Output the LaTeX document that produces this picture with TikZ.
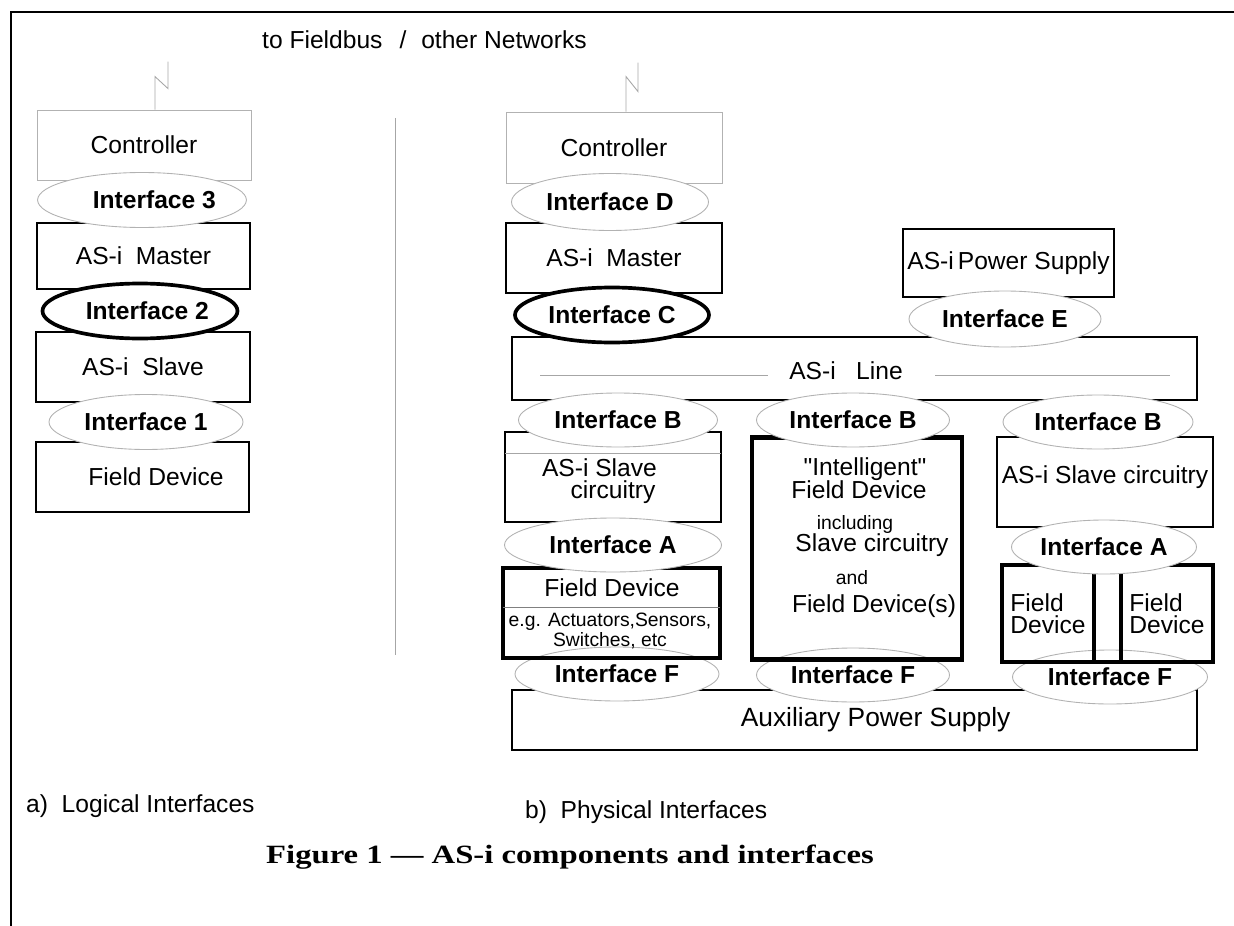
\documentclass[tikz,border=0pt]{standalone}
\usepackage{fontspec}
\setmainfont{Liberation Sans}[Ligatures=TeXOff]
\newfontfamily\capfont{Liberation Serif}[FakeStretch=1.24]
\usepackage{tikz}
\usetikzlibrary{calc}
\usetikzlibrary{shapes.geometric}

\tikzset{
	wh/.style 2 args={minimum width=#1*0.02cm, minimum height=#2*0.02cm},
	thinbox/.style={draw=gray!60, line width=0.5pt, inner sep=0pt},
	blkbox/.style={draw, line width=1.1pt, inner sep=0pt},
	heavybox/.style={draw, line width=2.7pt, inner sep=0pt},
	iface/.style={ellipse, draw=gray!60, line width=0.5pt, fill=white, inner sep=0pt, font=\fontsize{14}{16}\selectfont\bfseries},
	ifacethick/.style={iface, draw=black, line width=2.1pt},
	wire/.style={draw=gray!70, line width=0.5pt},
	smalltxt/.style={font=\fontsize{11}{11.5}\selectfont}
}

\begin{document}
\begin{tikzpicture}[x=0.02cm, y=-0.02cm, font=\fontsize{14}{16}\selectfont]
	\useasboundingbox (0,0) rectangle (1234,926);
	\draw[line width=1.3pt] (1234,12) -- (11,12) -- (11,926);
	
	\node[anchor=west] (netText) at (256,40) {to Fieldbus\hspace{0.7em}/\hspace{0.6em}other Networks};
	
	% a) logical
	\node[thinbox, wh={214}{70}] (ctrlL) at (144,145) {Controller};
	\node[blkbox, wh={213}{66}] (mastL) at (143.5,256) {AS-i\ \ Master};
	\node[blkbox, wh={214}{70}] (slaveL) at (143,367) {AS-i\ \ Slave\hspace{1em}};
	\node[blkbox, wh={213}{70}] (fieldL) at (142.5,477) {\hspace{1.1em}Field Device};
	\node[iface, wh={192}{55}] (ifThree) at (142,200) {\hspace{1em}Interface 3};
	\node[ifacethick, wh={195}{55}] (ifTwo) at (140,311) {\hspace{0.6em}Interface 2};
	\node[iface, wh={194}{55}] (ifOne) at (146,422) {Interface 1};
	\draw[wire] ([xshift=0.22cm]ctrlL.north) -- ++(0,-33) -- ++(13,12) -- ++(0,-27);
	
	\draw[wire] (395,118) -- (395,655);
	
	% b) physical
	\node[thinbox, wh={216}{71}] (ctrlR) at (614,147.5) {Controller};
	\node[blkbox, wh={216}{70}] (mastR) at (614,258) {AS-i\ \ Master};
	\node[blkbox, wh={211}{68}] (asiPsu) at (1008.5,263) {AS-i\,Power Supply};
	\node[blkbox, wh={685}{63}] (asiLine) at (854.5,368.5) {};
	\node (lineText) at (846,371) {AS-i\ \ \ Line};
	\draw[wire] (540,375) -- (768,375);
	\draw[wire] (935,375) -- (1170,375);
	\draw[wire] ([xshift=0.24cm]ctrlR.north) -- ++(0,-35) -- ++(12,15) -- ++(0,-29);
	
	\node[blkbox, wh={216}{90}] (slaveA) at (613,477) {};
	\node[align=center, font=\fontsize{14}{12.5}\selectfont] (slaveAText) at (613,481) {AS-i Slave\hspace*{1.1em}\\circuitry};
	\draw[wire] (505,453) -- (721,453);
	\node[blkbox, line width=0.9pt, wh={216}{90}] (slaveC) at (1105,482) {};
	\node (slaveCText) at (1105,477) {AS-i Slave circuitry};
	
	\node[blkbox, wh={685}{60}, font=\fontsize{15}{18}\selectfont] (auxPsu) at (854.5,720) {\hspace{1.6em}Auxiliary Power Supply};
	\node[iface, wh={204}{54}] (ifFa) at (617,674) {Interface F};
	\node[iface, wh={193}{54}] (ifFb) at (853,675) {Interface F};
	\node[iface, wh={195}{54}] (ifFc) at (1110,677) {Interface F};
	
	\node[heavybox, wh={217}{90}] (fieldA) at (611.5,613) {};
	\draw[wire, draw=gray] (503,607) -- (720,607);
	\node (fdName) at (612,588) {Field Device};
	\node[smalltxt, align=center] (fdEx) at (610,631) {e.g. Actuators,Sensors,\\Switches, etc};
	
	\node[heavybox, wh={210}{222}] (intel) at (857,548.5) {};
	\node (intA) at (865,469) {"Intelligent"};
	\node (intB) at (859,490) {Field Device};
	\node[smalltxt] (intC) at (855,524) {including};
	\node (intD) at (872,545) {Slave circuitry};
	\node[smalltxt] (intE) at (852,578) {and};
	\node (intF) at (874,606) {Field Device(s)};
	
	\node[heavybox, wh={92}{97}, align=left, font=\fontsize{14}{12.5}\selectfont] (fdevA) at (1048,613.5) {Field\\Device};
	\node[heavybox, wh={27}{97}] (fdevGap) at (1107.5,613.5) {};
	\node[heavybox, wh={92}{97}, align=left, font=\fontsize{14}{12.5}\selectfont] (fdevB) at (1167,613.5) {Field\\Device};
	
	\node[iface, wh={197}{57}] (ifD) at (610,202) {Interface D};
	\node[ifacethick, wh={194}{55}] (ifC) at (612,315) {Interface C};
	\node[iface, wh={192}{56}] (ifE) at (1005,319) {Interface E};
	\node[iface, wh={199}{54}] (ifBa) at (618,420) {Interface B};
	\node[iface, wh={193}{54}] (ifBb) at (853,420) {Interface B};
	\node[iface, wh={190}{54}] (ifBc) at (1098,422) {Interface B};
	\node[iface, wh={217}{54}] (ifAa) at (613,545) {Interface A};
	\node[iface, wh={185}{54}] (ifAc) at (1104,547) {Interface A};
	
	\node[anchor=west] (capA) at (20,806) {a)\ \ Logical Interfaces};
	\node[anchor=west] (capB) at (519,812) {b)\ \ Physical Interfaces};
	\node[font=\capfont\bfseries\fontsize{15}{18}\selectfont] (figCap) at (570,857) {Figure 1 — AS-i components and interfaces};
\end{tikzpicture}
\end{document}
